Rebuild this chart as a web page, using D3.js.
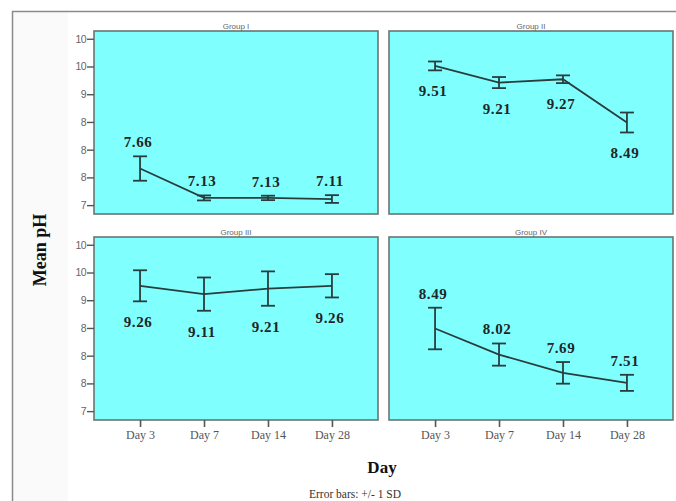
<!DOCTYPE html>
<html>
<head>
<meta charset="utf-8">
<script src="https://cdn.jsdelivr.net/npm/d3@7"></script>
<style>
    body { margin: 0; background: #fff; }
    svg { display: block; }
</style>
</head>
<body>
<div id="chart"></div>
<script>
// data
const days = ["Day 3", "Day 7", "Day 14", "Day 28"];
const groups = ["Group I", "Group II", "Group III", "Group IV"];
const meanPH = [
    [7.66, 7.13, 7.13, 7.11],
    [9.51, 9.21, 9.27, 8.49],
    [9.26, 9.11, 9.21, 9.26],
    [8.49, 8.02, 7.69, 7.51]
];
const sdPH = [
    [0.22, 0.045, 0.04, 0.07],
    [0.08, 0.10, 0.07, 0.18],
    [0.28, 0.30, 0.31, 0.21],
    [0.375, 0.20, 0.195, 0.145]
];
const yTicks = [7, 7.5, 8, 8.5, 9, 9.5, 10];
// which side of the error bar the value label sits on
const labelSide = ["above", "below", "below", "above"];

const width = 676, height = 501;
const panelW = 284, panelH = 183;
const panelX = [94, 389];
const panelY = [31, 237];

const svg = d3.select("#chart").append("svg")
    .attr("width", width)
    .attr("height", height);

// faint outer frame like the pasted SPSS output
svg.append("rect")
    .attr("x", 12).attr("y", 11)
    .attr("width", 56).attr("height", height)
    .attr("fill", "#fafafa");
svg.append("path")
    .attr("d", `M12.5,${height} V11.5 H${width}`)
    .attr("fill", "none")
    .attr("stroke", "#8a8a8a")
    .attr("stroke-width", 1.5);

const x = d3.scalePoint()
    .domain(days)
    .range([0, panelW])
    .padding(0.72);

const y = d3.scaleLinear()
    .domain([6.84, 10.14])
    .range([panelH, 0]);

// SPSS rounds half-values to even, so 8.5 shows as "8"
const fmtTick = d => {
    const f = Math.floor(d);
    if (d - f === 0.5) return String(f % 2 === 0 ? f : f + 1);
    return String(Math.round(d));
};

const line = d3.line()
    .x((d, i) => x(days[i]))
    .y(d => y(d));

groups.forEach((name, g) => {
    const col = g % 2, row = Math.floor(g / 2);
    const panel = svg.append("g")
        .attr("class", "panel")
        .attr("transform", `translate(${panelX[col]},${panelY[row]})`);

    panel.append("rect")
        .attr("width", panelW)
        .attr("height", panelH)
        .attr("fill", "#80ffff")
        .attr("stroke", "#6b7474")
        .attr("stroke-width", 1.6);

    panel.append("text")
        .attr("x", panelW / 2)
        .attr("y", -2)
        .attr("text-anchor", "middle")
        .attr("font-family", "Liberation Sans, Arial, sans-serif")
        .attr("font-size", 8)
        .attr("fill", "#666")
        .text(name);

    // y axis only on the left column
    if (col === 0) {
        const yAxis = panel.append("g")
            .call(d3.axisLeft(y).tickValues(yTicks).tickFormat(fmtTick).tickSize(7).tickPadding(1));
        yAxis.select(".domain").remove();
        yAxis.selectAll("line").attr("stroke", "#555").attr("stroke-width", 1.4);
        yAxis.selectAll("text")
            .attr("font-family", "Liberation Sans, Arial, sans-serif")
            .attr("font-size", 10.5)
            .attr("letter-spacing", -0.6)
            .attr("fill", "#666");
    }

    // x axis only on the bottom row
    if (row === 1) {
        const xAxis = panel.append("g")
            .attr("transform", `translate(0,${panelH})`)
            .call(d3.axisBottom(x).tickSize(7).tickPadding(3));
        xAxis.select(".domain").remove();
        xAxis.selectAll("line").attr("stroke", "#555").attr("stroke-width", 1.6);
        xAxis.selectAll("text")
            .attr("font-family", "Liberation Serif, Times New Roman, serif")
            .attr("font-size", 12)
            .attr("fill", "#555");
    }

    const means = meanPH[g];
    const sds = sdPH[g];

    panel.append("path")
        .datum(means)
        .attr("d", line)
        .attr("fill", "none")
        .attr("stroke", "#2a3d3d")
        .attr("stroke-width", 1.8);

    // error bars +/- 1 SD
    const bars = panel.selectAll(".err")
        .data(means.map((m, i) => ({ day: days[i], m, sd: sds[i] })))
        .enter().append("g")
        .attr("class", "err")
        .attr("stroke", "#2a3d3d")
        .attr("stroke-width", 1.8);
    bars.append("line")
        .attr("x1", d => x(d.day)).attr("x2", d => x(d.day))
        .attr("y1", d => y(d.m + d.sd)).attr("y2", d => y(d.m - d.sd));
    bars.append("line")
        .attr("x1", d => x(d.day) - 7).attr("x2", d => x(d.day) + 7)
        .attr("y1", d => y(d.m + d.sd)).attr("y2", d => y(d.m + d.sd));
    bars.append("line")
        .attr("x1", d => x(d.day) - 7).attr("x2", d => x(d.day) + 7)
        .attr("y1", d => y(d.m - d.sd)).attr("y2", d => y(d.m - d.sd));

    // value labels
    panel.selectAll(".val")
        .data(means.map((m, i) => ({ day: days[i], m, sd: sds[i] })))
        .enter().append("text")
        .attr("class", "val")
        .attr("x", d => x(d.day) - 2)
        .attr("y", d => labelSide[g] === "above" ? y(d.m + d.sd) - 9 : y(d.m - d.sd) + 26)
        .attr("text-anchor", "middle")
        .attr("font-family", "Liberation Serif, Times New Roman, serif")
        .attr("font-weight", "bold")
        .attr("font-size", 15)
        .attr("letter-spacing", 0.6)
        .attr("fill", "#1f2626")
        .text(d => d.m.toFixed(2));
});

// axis titles
svg.append("text")
    .attr("transform", "translate(46,250) rotate(-90)")
    .attr("text-anchor", "middle")
    .attr("font-family", "Liberation Serif, Times New Roman, serif")
    .attr("font-weight", "bold")
    .attr("font-size", 18)
    .attr("fill", "#111")
    .text("Mean pH");

svg.append("text")
    .attr("x", 382)
    .attr("y", 473)
    .attr("text-anchor", "middle")
    .attr("font-family", "Liberation Serif, Times New Roman, serif")
    .attr("font-weight", "bold")
    .attr("font-size", 17)
    .attr("fill", "#111")
    .text("Day");

svg.append("text")
    .attr("x", 355)
    .attr("y", 498)
    .attr("text-anchor", "middle")
    .attr("font-family", "Liberation Serif, Times New Roman, serif")
    .attr("font-size", 11.5)
    .attr("fill", "#333")
    .text("Error bars: +/- 1 SD");
</script>
</body>
</html>
